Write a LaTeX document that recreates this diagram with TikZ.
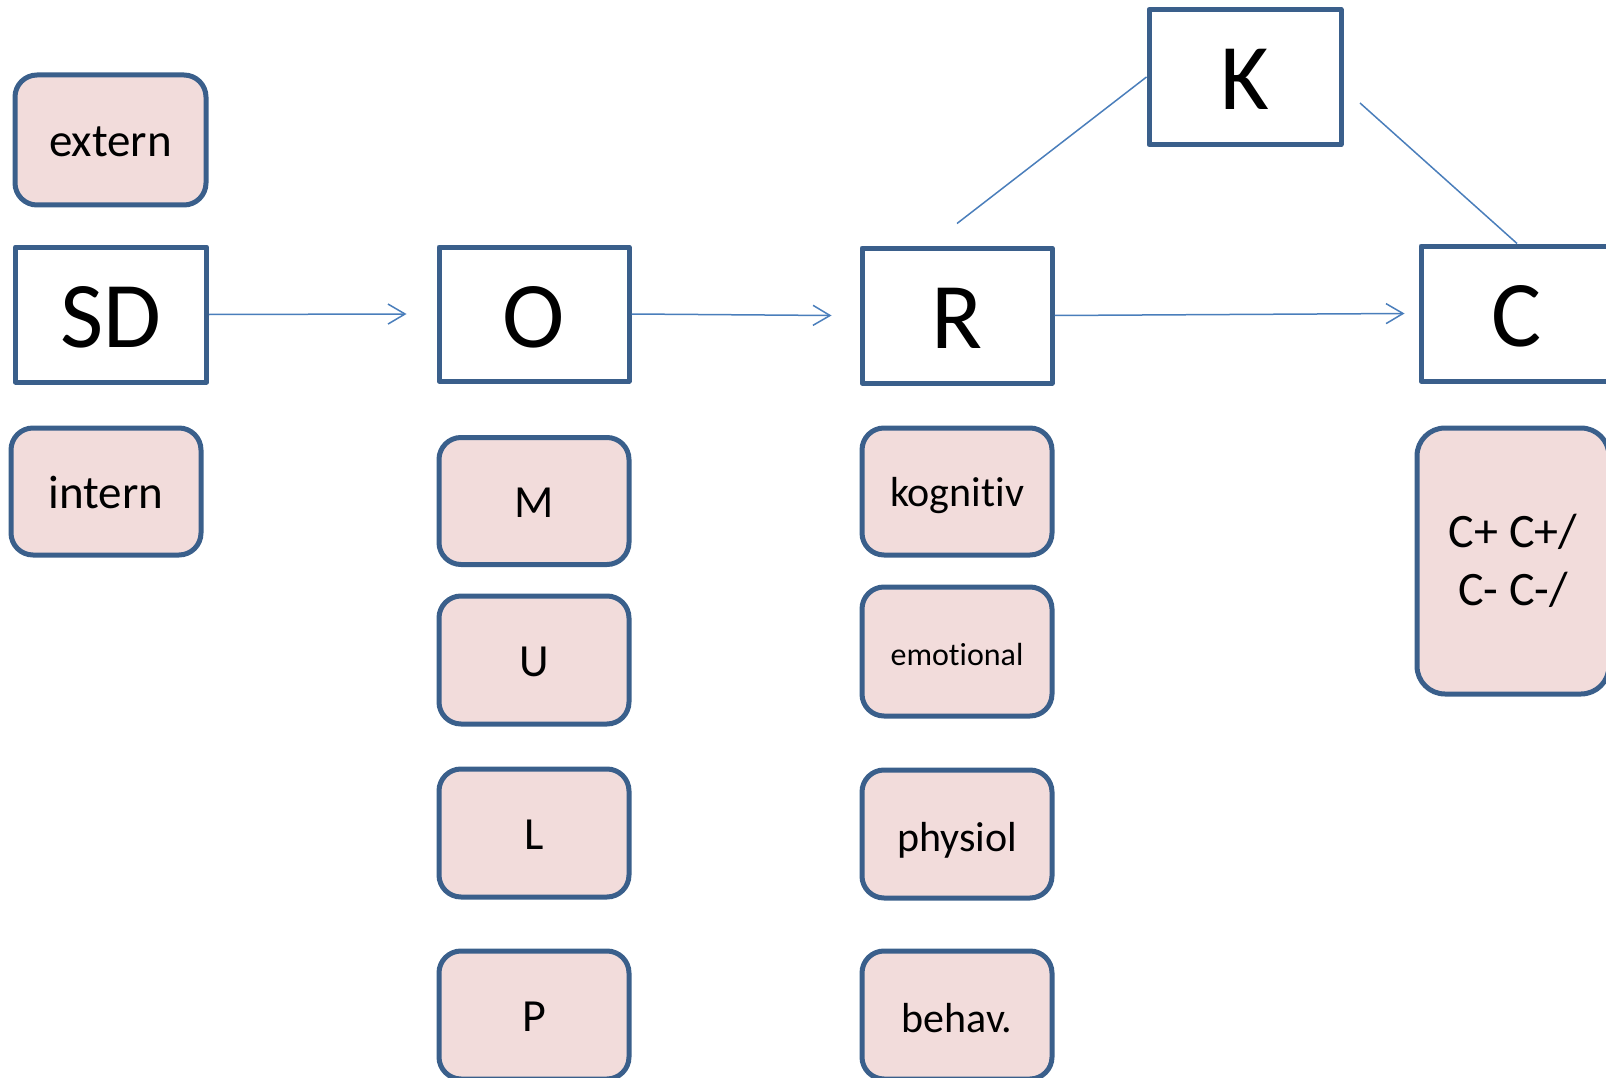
\documentclass[tikz,border=0pt]{standalone}
\usepackage{fontspec}
\setmainfont{Carlito}[Ligatures={NoCommon}]
\usetikzlibrary{arrows.meta,calc}
\definecolor{boxline}{HTML}{3A5F8B}
\definecolor{boxfill}{HTML}{F2DCDB}
\definecolor{linkcol}{HTML}{4A7EBB}
\begin{document}
\begin{tikzpicture}[x=1pt,y=-1pt,
  mainbox/.style={draw=boxline, line width=5pt, fill=white, line join=round,
    minimum width=191pt, minimum height=135pt, inner sep=0pt,
    text height=66pt, text depth=0pt, font=\fontsize{94}{100}\selectfont},
  subbox/.style={draw=boxline, line width=5pt, fill=boxfill, rounded corners=22pt,
    minimum width=190pt, minimum height=128pt, inner sep=0pt,
    text height=34pt, text depth=0pt, font=\fontsize{42}{50}\selectfont},
  link/.style={draw=linkcol, line width=1.5pt},
  flow/.style={link, -{Straight Barb[length=17pt,width=20pt,line width=1.5pt]}}]
\useasboundingbox (0,0) rectangle (1606,1078);
\clip (0,0) rectangle (1606,1078);

% stimulus column
\node[subbox, minimum width=191pt, minimum height=130pt, font=\fontsize{47}{54}\selectfont] (ext) at (110.5,140) {extern};
\node[mainbox] (SD) at (111,314.5) {SD};
\node[subbox, minimum height=127pt, font=\fontsize{47}{54}\selectfont] (int) at (106,491.5) {intern};

% organism column
\node[mainbox, minimum width=190pt, minimum height=134pt] (O) at (534,314) {O};
\node[subbox, minimum height=127pt, text height=33pt, font=\fontsize{46}{50}\selectfont] (M) at (534,501) {M};
\node[subbox, text height=33pt, font=\fontsize{46}{50}\selectfont] (U) at (534,660) {U};
\node[subbox, text height=33pt, font=\fontsize{46}{50}\selectfont] (L) at (534,833) {L};
\node[subbox, text height=33pt, font=\fontsize{46}{50}\selectfont] (P) at (534,1015) {P};

% response column
\node[mainbox, minimum width=190pt] (R) at (957,315.5) {R};
\node[subbox, minimum height=127pt, text height=30pt] (kog) at (957,491.5) {kognitiv};
\node[subbox, minimum height=129pt, text height=27pt, font=\fontsize{32}{38}\selectfont] (emo) at (957,651.5) {emotional};
\node[subbox] (phys) at (957,834) {physiol};
\node[subbox] (beh) at (957,1015) {behav.};

% consequence column
\node[mainbox, minimum width=192pt] (K) at (1245,77) {K};
\node[mainbox, minimum width=192pt] (C) at (1517,313.5) {C};
\node[subbox, rounded corners=28pt, minimum width=192pt, minimum height=266pt,
  text height=, text depth=, align=center, font=\fontsize{48}{58}\selectfont] (Cpm) at (1513,561) {C+ C+/\\C- C-/};

% flow arrows
\coordinate (oin) at ($(O.west)+(-30,0)$);
\coordinate (rin) at ($(R.west)+(-28,0)$);
\coordinate (cin) at ($(C.west)+(-14,0)$);
\draw[flow] (SD.east) -- (oin);
\draw[flow] (O.east) -- (rin);
\draw[flow] (R.east) -- (cin);

% links through K
\coordinate (rtop) at ($(R.north)+(0,-22)$);
\coordinate (kgap) at (1360,103);
\draw[link] (rtop) -- (K.west);
\draw[link] (kgap) -- (C.north);
\end{tikzpicture}
\end{document}
